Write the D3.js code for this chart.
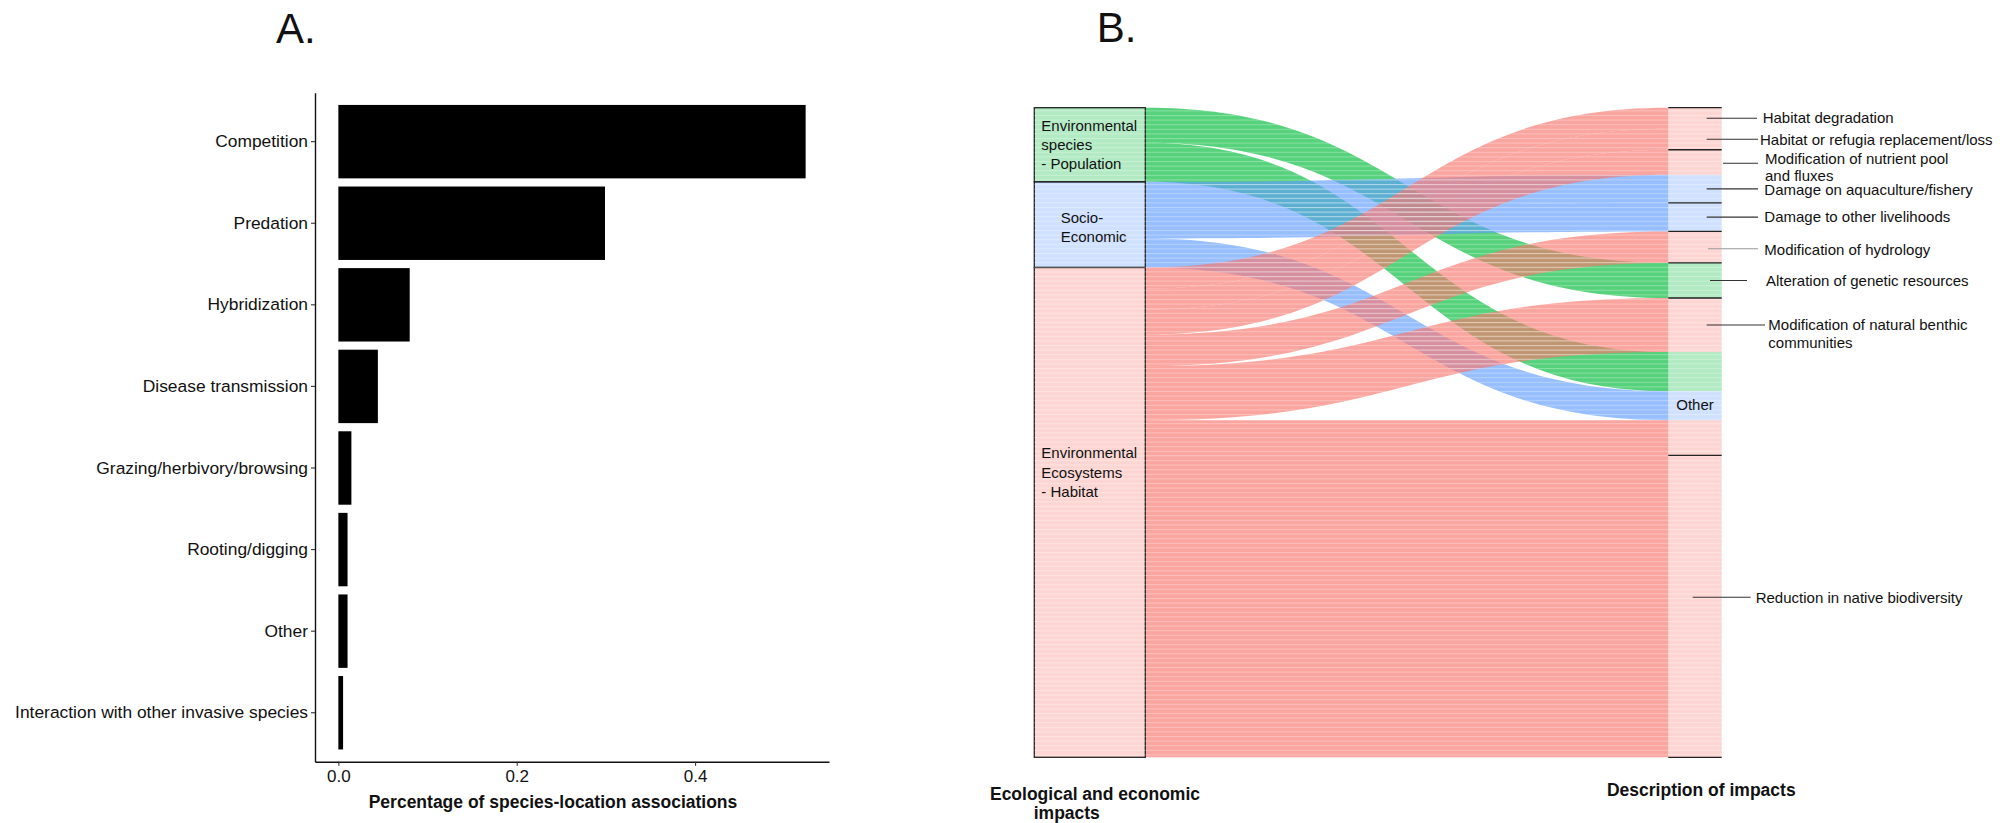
<!DOCTYPE html>
<html><head><meta charset="utf-8">
<script src="https://cdn.jsdelivr.net/npm/d3@7"></script>
<style>
body{margin:0;background:#fff;}
text{font-family:"Liberation Sans",Arial,sans-serif;fill:#111;}
</style>
</head><body>
<svg id="chart" width="2013" height="823"></svg>
<script>
// ---------- Panel A data ----------
const categories = ["Competition","Predation","Hybridization","Disease transmission",
  "Grazing/herbivory/browsing","Rooting/digging","Other","Interaction with other invasive species"];
const shares = [0.524, 0.299, 0.080, 0.0443, 0.0146, 0.0103, 0.0103, 0.0053];
const xTickValues = [0.0, 0.2, 0.4];

// ---------- Panel B data ----------
const impactTypes = ["Environmental species - Population","Socio-Economic","Environmental Ecosystems - Habitat"];
const impactLabels = [["Environmental","species","- Population"],["Socio-","Economic"],["Environmental","Ecosystems","- Habitat"]];
const descriptions = ["Habitat degradation","Habitat or refugia replacement/loss",
  "Modification of nutrient pool and fluxes","Damage on aquaculture/fishery","Damage to other livelihoods",
  "Modification of hydrology","Alteration of genetic resources","Modification of natural benthic communities",
  "Other","Reduction in native biodiversity"];
const descriptionLabels = [["Habitat degradation"],["Habitat or refugia replacement/loss"],
  ["Modification of nutrient pool","and fluxes"],["Damage on aquaculture/fishery"],["Damage to other livelihoods"],
  ["Modification of hydrology"],["Alteration of genetic resources"],["Modification of natural benthic","communities"],
  ["Other"],["Reduction in native biodiversity"]];
const flowSource = [0, 0, 1, 1, 1, 2, 2, 2, 2, 2, 2, 2];
const flowTarget = [6, 8, 3, 4, 8, 0, 1, 2, 5, 7, 8, 9];
const flowValue  = [35, 39, 28, 28.5, 29, 21, 21, 25, 31.5, 54, 35, 301.5];

// ---------- styling / layout config ----------
const FONT = '"Liberation Sans",Arial,sans-serif';
const svg = d3.select("#chart");

// ================= PANEL A =================
const A = {left:315, right:829, top:92.7, bottom:761.7};
svg.append("text").attr("x",276).attr("y",43).attr("font-size",42).text("A.");

const maxV = d3.max(shares);
const xA = d3.scaleLinear().domain([-0.05*maxV, 1.05*maxV]).range([A.left, A.right]);
const yA = d3.scaleBand().domain(categories).range([A.top, A.bottom]).paddingInner(0.1).paddingOuter(0.15);

svg.append("g").selectAll("rect").data(categories).join("rect")
  .attr("x", xA(0))
  .attr("y", d => yA(d))
  .attr("width", (d,i) => xA(shares[i]) - xA(0))
  .attr("height", yA.bandwidth())
  .attr("fill", "#000");

const gy = svg.append("g").attr("transform",`translate(${A.left},0)`)
  .call(d3.axisLeft(yA).tickSize(4).tickPadding(3).tickSizeOuter(0));
const gx = svg.append("g").attr("transform",`translate(0,${A.bottom})`)
  .call(d3.axisBottom(xA).tickValues(xTickValues).tickFormat(d3.format(".1f")).tickSize(4).tickPadding(4).tickSizeOuter(0));
[gy,gx].forEach(g=>{
  g.select(".domain").attr("stroke","#111").attr("stroke-width",1.4);
  g.selectAll(".tick line").attr("stroke","#333").attr("stroke-width",1.1);
  g.selectAll(".tick text").attr("font-family",FONT).attr("fill","#1a1a1a");
});
gy.selectAll(".tick text").attr("font-size",17.4);
gx.selectAll(".tick text").attr("font-size",17);

svg.append("text").attr("x",553).attr("y",808).attr("text-anchor","middle")
  .attr("font-size",17.5).attr("font-weight","bold").text("Percentage of species-location associations");

// ================= PANEL B =================
svg.append("text").attr("x",1096.7).attr("y",42.3).attr("font-size",42).text("B.");

const B = {top:107.7, bottom:757.3, lx0:1034.3, lx1:1145.3, rx0:1668.3, rx1:1721.7};
const color = d3.scaleOrdinal(impactTypes, ["#00BA38","#619CFF","#F8766D"]);

const flows = flowValue.map((v,i)=>({i, s:flowSource[i], t:flowTarget[i], v}));
const total = d3.sum(flowValue);
const yB = d3.scaleLinear().domain([0,total]).range([B.top,B.bottom]);

// source nodes
const srcNodes = impactTypes.map((n,k)=>({name:n, k, v:d3.sum(flows.filter(f=>f.s===k),f=>f.v)}));
let acc = 0;
srcNodes.forEach(n=>{ n.y0 = acc; acc += n.v; n.y1 = acc; });
srcNodes.forEach(n=>{
  let a = n.y0;
  flows.filter(f=>f.s===n.k).sort((p,q)=>p.t-q.t).forEach(f=>{ f.sy0=a; a+=f.v; f.sy1=a; });
});
// target nodes
const tgtNodes = descriptions.map((n,k)=>({name:n, k, v:d3.sum(flows.filter(f=>f.t===k),f=>f.v)}));
acc = 0;
tgtNodes.forEach(n=>{ n.y0 = acc; acc += n.v; n.y1 = acc; });
tgtNodes.forEach(n=>{
  let a = n.y0;
  flows.filter(f=>f.t===n.k).sort((p,q)=>p.s-q.s).forEach(f=>{ f.ty0=a; a+=f.v; f.ty1=a; });
});

function ribbon(f){
  const x0=B.lx1, x1=B.rx0, xm=(x0+x1)/2;
  const a0=yB(f.sy0), a1=yB(f.sy1), b0=yB(f.ty0), b1=yB(f.ty1);
  const p=d3.path();
  p.moveTo(x0,a0); p.bezierCurveTo(xm,a0,xm,b0,x1,b0);
  p.lineTo(x1,b1); p.bezierCurveTo(xm,b1,xm,a1,x0,a1);
  p.closePath();
  return p.toString();
}

// stripe pattern
const defs = svg.append("defs");
const pat = defs.append("pattern").attr("id","stripes").attr("patternUnits","userSpaceOnUse")
  .attr("width",8).attr("height",4.6);
pat.append("rect").attr("width",8).attr("height",1).attr("y",0).attr("fill","#fff").attr("opacity",0.3);

const gFlows = svg.append("g");
gFlows.selectAll("path").data(flows).join("path")
  .attr("d", ribbon)
  .attr("fill", f=>color(impactTypes[f.s]))
  .attr("fill-opacity", 0.66);

// right column lodes
svg.append("g").selectAll("rect").data(flows).join("rect")
  .attr("x",B.rx0).attr("width",B.rx1-B.rx0)
  .attr("y",f=>yB(f.ty0)).attr("height",f=>yB(f.ty1)-yB(f.ty0))
  .attr("fill",f=>color(impactTypes[f.s])).attr("fill-opacity",0.3);

// left strata
svg.append("g").selectAll("rect").data(srcNodes).join("rect")
  .attr("x",B.lx0).attr("width",B.lx1-B.lx0)
  .attr("y",n=>yB(n.y0)).attr("height",n=>yB(n.y1)-yB(n.y0))
  .attr("fill",n=>color(n.name)).attr("fill-opacity",0.3)
  .attr("stroke","#222").attr("stroke-width",1.3);

// light stripes overlay on panel B fills
svg.append("g").selectAll("path").data(flows).join("path")
  .attr("d", ribbon).attr("fill","url(#stripes)");
svg.append("rect").attr("x",B.lx0).attr("y",B.top).attr("width",B.lx1-B.lx0).attr("height",B.bottom-B.top).attr("fill","url(#stripes)");
svg.append("rect").attr("x",B.rx0).attr("y",B.top).attr("width",B.rx1-B.rx0).attr("height",B.bottom-B.top).attr("fill","url(#stripes)");

// right strata borders (those visible in the figure)
const hiddenTopBorders = ["Habitat or refugia replacement/loss","Damage on aquaculture/fishery","Other"];
const borderYs = tgtNodes.filter(n=>!hiddenTopBorders.includes(n.name)).map(n=>yB(n.y0)).concat([yB(total)]);
svg.append("g").selectAll("line").data(borderYs).join("line")
  .attr("x1",B.rx0).attr("x2",B.rx1).attr("y1",d=>d).attr("y2",d=>d)
  .attr("stroke","#222").attr("stroke-width",1.3);

// left strata labels
const srcLabelDx = [7, 26.4, 7];
const srcLabelDy = [0, 2.5, -40];
const lineH = 19.3;
srcNodes.forEach((n,k)=>{
  const lines = impactLabels[k];
  const cy = (yB(n.y0)+yB(n.y1))/2 + srcLabelDy[k];
  const t = svg.append("text").attr("font-size",15).attr("fill","#111");
  lines.forEach((ln,j)=>{
    t.append("tspan").attr("x",B.lx0+srcLabelDx[k])
      .attr("y", cy + (j-(lines.length-1)/2)*lineH).attr("dy","0.35em").text(ln);
  });
});

// right labels
const tgtPointerDy = [0,0,1,0,0,1.5,0,0,0,-9];
const tgtTextDy    = [0,0,-5,1,0,1.5,0,0,0,0];
const tgtLineX0    = [1706.7,1706.7,1723,1706.7,1706.7,1708,1710,1706.7,null,1692.7];
const tgtLineX1    = [1757,1758,1758,1758,1758,1758,1747,1765,null,1750.7];
const tgtTextX     = [1762.7,1760,1765,1764.3,1764.3,1764.3,1766,1768.3,null,1755.7];
const tgtLineH = 17.8;
tgtNodes.forEach((n,k)=>{
  const cy = (yB(n.y0)+yB(n.y1))/2;
  if (n.name === "Other") {
    svg.append("text").attr("x",(B.rx0+B.rx1)/2).attr("y",cy+1).attr("dy","0.35em")
      .attr("text-anchor","middle").attr("font-size",15).text(descriptionLabels[k][0]);
    return;
  }
  const py = cy + tgtPointerDy[k];
  svg.append("line").attr("x1",tgtLineX0[k]).attr("x2",tgtLineX1[k]).attr("y1",py).attr("y2",py)
    .attr("stroke",k===5?"#999":"#333").attr("stroke-width",1.1);
  const t = svg.append("text").attr("font-size",15);
  descriptionLabels[k].forEach((ln,j)=>{
    t.append("tspan").attr("x",tgtTextX[k]).attr("y",py+tgtTextDy[k]+j*tgtLineH).attr("dy","0.35em").text(ln);
  });
});

// axis titles panel B
svg.append("text").attr("x",1095).attr("y",799.5).attr("text-anchor","middle")
  .attr("font-size",17.5).attr("font-weight","bold").text("Ecological and economic");
svg.append("text").attr("x",1066.8).attr("y",818.5).attr("text-anchor","middle")
  .attr("font-size",17.5).attr("font-weight","bold").text("impacts");
svg.append("text").attr("x",1701.3).attr("y",796).attr("text-anchor","middle")
  .attr("font-size",17.5).attr("font-weight","bold").text("Description of impacts");
</script>
</body></html>
